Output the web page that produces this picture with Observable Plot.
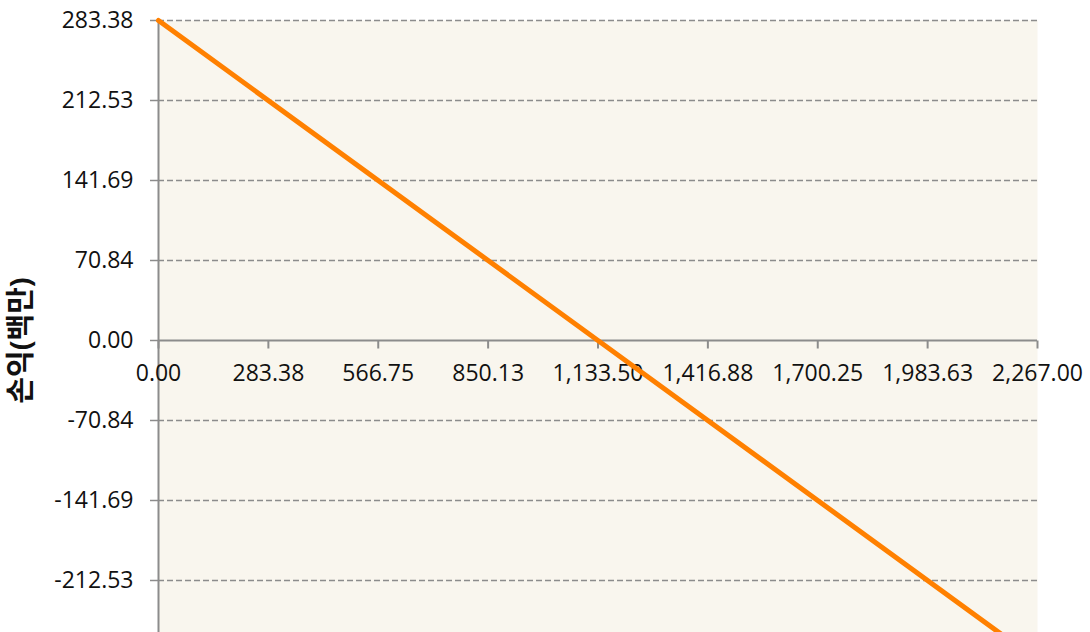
<!DOCTYPE html>
<html>
<head>
<meta charset="utf-8">
<script src="https://cdn.jsdelivr.net/npm/d3@7"></script>
<script src="https://cdn.jsdelivr.net/npm/@observablehq/plot@0.6"></script>
<style>
html, body { margin: 0; padding: 0; background: #fff; overflow: hidden; }
</style>
</head>
<body>
<div id="chart"></div>
<script>
// Data
const volume = [0, 2267.00];          // x: 판매량
const profit = [283.38, -283.38];     // y: 손익(백만)
const xTicks = [0, 283.38, 566.75, 850.13, 1133.50, 1416.88, 1700.25, 1983.63, 2267.00];
const yTicks = [283.38, 212.53, 141.69, 70.84, 0, -70.84, -141.69, -212.53];
const yLabel = "손익(백만)";

const data = volume.map((v, i) => ({x: v, y: profit[i]}));
const fmt = d3.format(",.2f");
const gray = "#8c8c8c";
const font = "'Open Sans', 'Noto Sans CJK KR', sans-serif";

const tickSym = {
  draw(context) { context.moveTo(0, 0); context.lineTo(0, 8); }
};

const chart = Plot.plot({
  width: 1090,
  height: 680,
  marginTop: 20,
  marginLeft: 158,
  marginRight: 53,
  marginBottom: 20,
  style: {fontFamily: font, fontSize: "23px", color: "#111", background: "#fff"},
  x: {domain: [0, 2267], axis: null},
  y: {domain: [-283.38, 283.38]},
  marks: [
    Plot.frame({fill: "#f9f6ee", stroke: null}),
    Plot.gridY(yTicks.filter(d => d !== 0).concat([-283.38]), {stroke: gray, strokeOpacity: 1, strokeWidth: 1.5, strokeDasharray: "6,3"}),
    Plot.axisY(yTicks, {
      tickSize: 8, tickPadding: 17, stroke: gray, strokeWidth: 1.5,
      tickFormat: d => d.toFixed(2), fontSize: 23,
      label: yLabel, labelAnchor: "center", labelArrow: "none", labelOffset: 148
    }),
    Plot.ruleX([0], {stroke: gray, strokeWidth: 2}),
    Plot.ruleY([0], {stroke: gray, strokeWidth: 2}),
    Plot.dot(xTicks, {x: d => d, y: 0, symbol: tickSym, stroke: gray, strokeWidth: 2, fill: "none"}),
    Plot.text(xTicks, {x: d => d, y: 0, text: d => fmt(d), dy: 33, fontSize: 23, fill: "#111"}),
    Plot.line(data, {x: "x", y: "y", stroke: "#ff8000", strokeWidth: 5})
  ]
});

chart.querySelectorAll("g[aria-label^='y-axis tick label'] text").forEach(t => {
  t.style.fontSize = "23px";
});
chart.querySelectorAll("g[aria-label^='y-axis label'] text").forEach(t => {
  t.style.fontWeight = "bold";
  t.style.fontSize = "29px";
});
document.getElementById("chart").appendChild(chart);
</script>
</body>
</html>
